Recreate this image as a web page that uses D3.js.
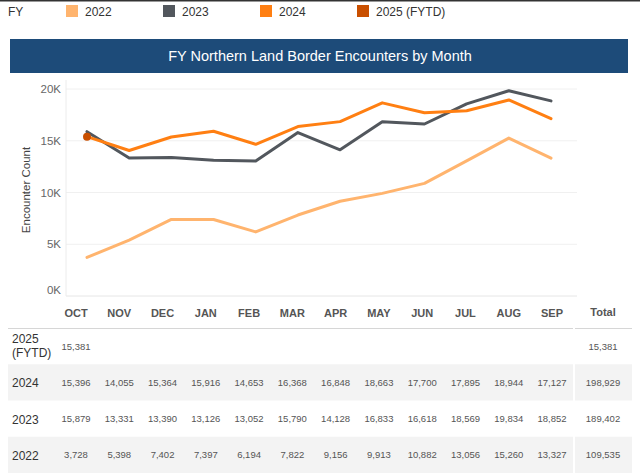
<!DOCTYPE html>
<html><head><meta charset="utf-8">
<script src="https://cdn.jsdelivr.net/npm/d3@7"></script>
<style>body{margin:0;background:#fff;}svg{display:block;font-family:"Liberation Sans",Arial,sans-serif;}</style>
</head><body>
<svg id="c" width="640" height="473"></svg>
<script>
const months = ["OCT","NOV","DEC","JAN","FEB","MAR","APR","MAY","JUN","JUL","AUG","SEP"];
const years = ["2022","2023","2024","2025 (FYTD)"];
const colors = ["#ffb46e","#52575d","#ff7f12","#c94f00"];
const v2022 = [3728,5398,7402,7397,6194,7822,9156,9913,10882,13056,15260,13327];
const v2023 = [15879,13331,13390,13126,13052,15790,14128,16833,16618,18569,19834,18852];
const v2024 = [15396,14055,15364,15916,14653,16368,16848,18663,17700,17895,18944,17127];
const v2025 = [15381];
const yTicks = [0,5000,10000,15000,20000];
const tableRows = ["2025 (FYTD)","2024","2023","2022"];

const series = [
  {name:"2022", values:v2022, color:colors[0]},
  {name:"2023", values:v2023, color:colors[1]},
  {name:"2024", values:v2024, color:colors[2]},
  {name:"2025 (FYTD)", values:v2025, color:colors[3]}
];

const svg = d3.select("#c");
svg.append("rect").attr("x",0).attr("y",0).attr("width",640).attr("height",1.5).attr("fill","#333");

// Legend
svg.append("text").attr("x",8).attr("y",16).attr("font-size",12).attr("fill","#333").text("FY");
const legX = d3.scalePoint().domain(years).range([66,357]);
const lg = svg.selectAll("g.leg").data(series).join("g").attr("transform",d=>`translate(${legX(d.name)},5)`);
lg.append("rect").attr("width",12).attr("height",12).attr("fill",d=>d.color);
lg.append("text").attr("x",19).attr("y",11).attr("font-size",12).attr("fill","#333").text(d=>d.name);

// Title bar
svg.append("rect").attr("x",10).attr("y",39).attr("width",618).attr("height",34).attr("fill","#1d4b79");
svg.append("text").attr("x",320).attr("y",61).attr("text-anchor","middle").attr("font-size",14.5).attr("fill","#fff").text("FY Northern Land Border Encounters by Month");

// Scales
const x = d3.scalePoint().domain(months).range([87,551]);
const y = d3.scaleLinear().domain([0,20000]).range([296,89]);

// gridlines
svg.selectAll("line.grid").data(yTicks).join("line")
  .attr("x1",66).attr("x2",577).attr("y1",d=>y(d)).attr("y2",d=>y(d))
  .attr("stroke",d=>d===0?"#e6e6e6":"#f0f0f0").attr("stroke-width",1);
svg.append("line").attr("x1",66).attr("x2",66).attr("y1",80).attr("y2",296).attr("stroke","#ececec");

// y axis labels
const yAxis = d3.axisLeft(y).tickValues(yTicks).tickFormat(d=>(d/1000)+"K").tickSize(0).tickPadding(0);
const yg = svg.append("g").attr("transform","translate(61,0)").call(yAxis);
yg.select(".domain").remove();
yg.selectAll("text").attr("font-size",11.5).attr("fill","#666").attr("font-family","Liberation Sans, Arial, sans-serif")
  .attr("dy",d=>d===0?"-0.2em":"0.32em");

svg.append("text").attr("transform","translate(30,190) rotate(-90)").attr("text-anchor","middle")
  .attr("font-size",11.5).attr("fill","#444").text("Encounter Count");

// lines
const line = d3.line().x((d,i)=>x(months[i])).y(d=>y(d));
series.filter(s=>s.values.length>1).forEach(s=>{
  svg.append("path").datum(s.values).attr("d",line).attr("fill","none")
    .attr("stroke",s.color).attr("stroke-width",3).attr("stroke-linejoin","round").attr("stroke-linecap","round");
});
series.filter(s=>s.values.length===1).forEach(s=>{
  svg.selectAll(null).data(s.values).join("circle").attr("cx",(d,i)=>x(months[i])).attr("cy",d=>y(d)).attr("r",4).attr("fill",s.color);
});

// Table
const col = d3.scalePoint().domain(months).range([76,552]);
const totalX = 603;
const rowY = d3.scaleBand().domain(tableRows).range([328,473]);
const rowData = {"2025 (FYTD)":v2025,"2024":v2024,"2023":v2023,"2022":v2022};
const fmt = d3.format(",");

// header labels
svg.selectAll("text.hdr").data(months).join("text").attr("class","hdr")
  .attr("x",d=>col(d)).attr("y",317).attr("text-anchor","middle").attr("font-size",11).attr("font-weight","bold").attr("fill","#555").text(d=>d);
svg.append("text").attr("x",totalX).attr("y",316).attr("text-anchor","middle").attr("font-size",11).attr("font-weight","bold").attr("fill","#555").text("Total");
svg.append("line").attr("x1",8).attr("x2",632).attr("y1",328.5).attr("y2",328.5).attr("stroke","#d6d6d6");

// row bands
["2024","2022"].forEach(r=>{
  svg.append("rect").attr("x",8).attr("y",rowY(r)).attr("width",624).attr("height",rowY.bandwidth()).attr("fill","#f3f3f3");
});
svg.append("line").attr("x1",574).attr("x2",574).attr("y1",328).attr("y2",473).attr("stroke","#fff").attr("stroke-width",2);

tableRows.forEach(r=>{
  const cy = rowY(r)+rowY.bandwidth()/2;
  if(r==="2025 (FYTD)"){
    svg.append("text").attr("x",12).attr("y",cy-3).attr("font-size",12).attr("fill","#333").text("2025");
    svg.append("text").attr("x",12).attr("y",cy+11).attr("font-size",12).attr("fill","#333").text("(FYTD)");
  } else {
    svg.append("text").attr("x",12).attr("y",cy+5).attr("font-size",12).attr("fill","#333").text(r);
  }
  const vals = rowData[r];
  svg.selectAll(null).data(vals).join("text").attr("x",(d,i)=>col(months[i])).attr("y",cy+3.5)
    .attr("text-anchor","middle").attr("font-size",9.5).attr("fill","#555").text(d=>fmt(d));
  svg.append("text").attr("x",totalX).attr("y",cy+3.5).attr("text-anchor","middle").attr("font-size",9.5).attr("fill","#555")
    .text(fmt(d3.sum(vals)));
});
</script>
</body></html>
